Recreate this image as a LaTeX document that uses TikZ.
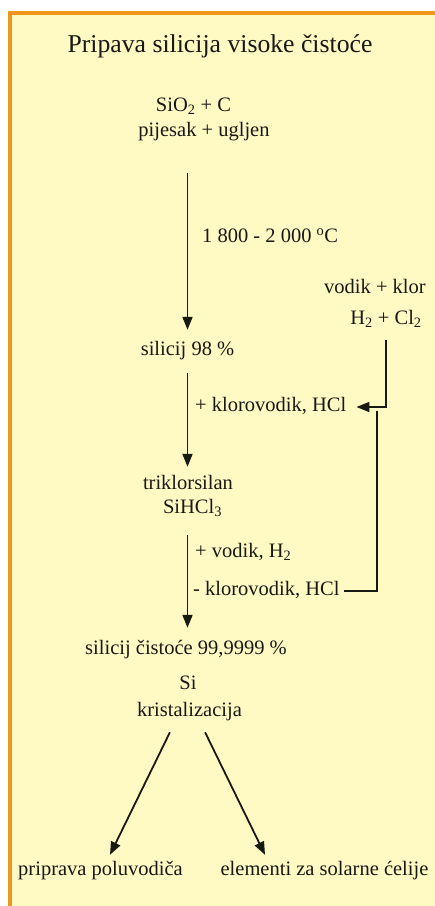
\documentclass[tikz,border=0pt]{standalone}
\usepackage{fontspec}
\setmainfont{Liberation Serif}
\usetikzlibrary{arrows.meta}
\definecolor{bgy}{RGB}{255,249,196}
\definecolor{orng}{RGB}{240,150,30}
\definecolor{ink}{RGB}{25,25,20}
\begin{document}
\begin{tikzpicture}[x=1pt,y=-1pt,
  txt/.style={inner sep=0pt, text height=14pt, text depth=4.5pt, font=\fontsize{20.5}{24}\selectfont, text=ink},
  ttl/.style={inner sep=0pt, text height=17pt, text depth=5.5pt, font=\fontsize{25.7}{30}\selectfont, text=ink},
  arr/.style={draw=ink, line width=1.8pt, -{Triangle[length=13pt,width=10pt]}},
  ln/.style={draw=ink, line width=1.8pt}]
\useasboundingbox (0,0) rectangle (435,906);
\fill[white] (0,0) rectangle (435,906);
\fill[bgy] (8,11) rectangle (435,906);
\fill[orng] (8,11) rectangle (435,14.5);
\fill[orng] (8,11) rectangle (11.5,906);

\node[ttl] (title) at (220,47) {Pripava silicija visoke čistoće};
\node[txt] (sio) at (193.5,107) {SiO\textsubscript{2} + C};
\node[txt] (pij) at (204,132) {pijesak + ugljen};
\node[txt, anchor=west] (temp) at (202,238) {1 800 - 2 000 \textsuperscript{o}C};
\node[txt] (sil98) at (187.5,351) {silicij 98 \%};
\node[txt] (vk) at (375,289) {vodik + klor};
\node[txt] (h2cl2) at (386,320) {H\textsubscript{2} + Cl\textsubscript{2}};
\node[txt, anchor=west] (kv1) at (195,407) {+ klorovodik, HCl};
\node[txt] (trik) at (188,485) {triklorsilan};
\node[txt] (sihcl) at (192.5,509) {SiHCl\textsubscript{3}};
\node[txt, anchor=west] (vh) at (195,553) {+ vodik, H\textsubscript{2}};
\node[txt, anchor=west] (kv2) at (193,591) {- klorovodik, HCl};
\node[txt] (sicis) at (186,650) {silicij čistoće 99,9999 \%};
\node[txt] (si) at (188,685) {Si};
\node[txt] (kris) at (189.5,712) {kristalizacija};
\node[txt] (ppv) at (100.5,871) {priprava poluvodiča};
\node[txt] (el) at (324.5,871) {elementi za solarne ćelije};

\coordinate (join) at (377,411);

\draw[arr, shorten <=31.75pt, shorten >=11.75pt] (pij.south -| sil98.north) -- (sil98.north);
\draw[arr, shorten <=12.75pt, shorten >=8.75pt] (sil98.south) -- (sil98.south |- trik.north);
\draw[arr, shorten <=16.75pt, shorten >=12.75pt] (sil98.south |- sihcl.south) -- (sil98.south |- sicis.north);
\draw[arr, shorten <=10.75pt, shorten >=10pt] (h2cl2.south) |- (kv1.east);
\draw[ln, shorten <=4pt] (kv2.east) -| (join);
\draw[arr, shorten <=12pt, shorten >=7.5pt] ([xshift=-14.3pt]kris.south) -- ([xshift=6.2pt]ppv.north);
\draw[arr, shorten <=12pt, shorten >=7.5pt] ([xshift=10.3pt]kris.south) -- ([xshift=-56.2pt]el.north);
\end{tikzpicture}
\end{document}
